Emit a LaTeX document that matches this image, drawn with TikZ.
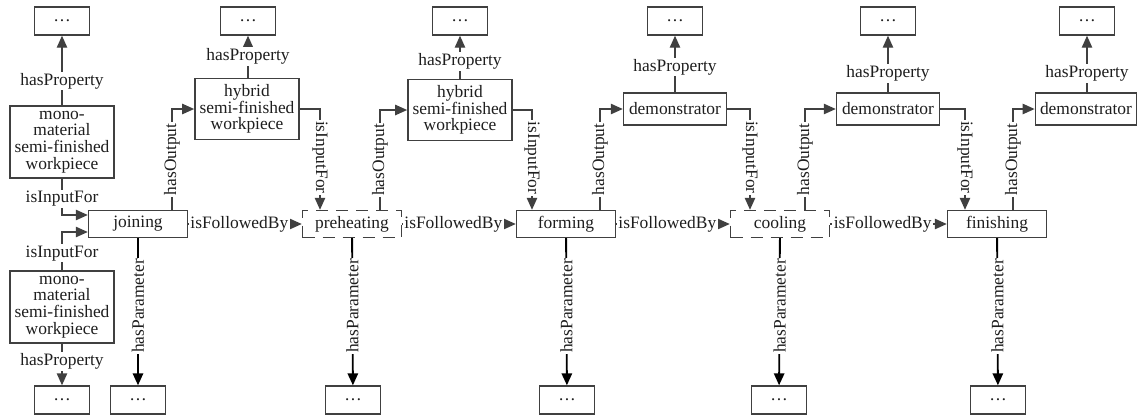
\documentclass[tikz,border=0pt]{standalone}
\usepackage{fontspec}
\setmainfont{Liberation Serif}
\usetikzlibrary{arrows.meta, positioning}
\definecolor{lngray}{RGB}{64,64,64}
\definecolor{txgray}{RGB}{30,30,30}

\begin{document}
\begin{tikzpicture}[x=0.25mm, y=-0.25mm,
  every node/.style={font=\fontsize{12.4}{11.9}\selectfont, text=txgray},
  procbox/.style={draw=lngray, line width=1pt, minimum width=24.75mm, minimum height=6.75mm},
  optbox/.style={procbox, dash pattern=on 3mm off 2mm},
  dotbox/.style={draw=lngray, line width=1pt, minimum width=13.75mm, minimum height=7mm},
  objbox/.style={draw=lngray, line width=1pt, minimum width=25.75mm, align=center},
  rel/.style={draw=lngray, line width=1pt, -{Triangle[length=3mm, width=2.6mm]}},
  parrel/.style={rel, draw=black, line width=1.3pt},
  lbl/.style={fill=white, inner sep=1pt}]
  \useasboundingbox (0,0) rectangle (1141,417);

  % Process chain
  \node[procbox] (joining) at (138,224) {joining};
  \node[optbox] (preheating) at (352,224) {preheating};
  \node[procbox] (forming) at (566,224) {forming};
  \node[optbox] (cooling) at (780,224) {cooling};
  \node[procbox] (finishing) at (997,224) {finishing};

  % Inputs and outputs
  \node[objbox, minimum height=18mm] (mono1) at (62,142) {mono-\\material\\semi-finished\\workpiece};
  \node[objbox, minimum height=18mm] (mono2) at (62,307) {mono-\\material\\semi-finished\\workpiece};
  \node[objbox, minimum height=15.25mm] (hybrid1) at (247,109) {hybrid\\semi-finished\\workpiece};
  \node[objbox, minimum height=15.25mm] (hybrid2) at (460,110) {hybrid\\semi-finished\\workpiece};
  \node[objbox, minimum height=8mm] (demo1) at (675,109) {demonstrator};
  \node[objbox, minimum height=8mm] (demo2) at (888,109) {demonstrator};
  \node[objbox, minimum height=8mm, minimum width=24.5mm] (demo3) at (1086,109) {demonstrator};

  % Placeholder boxes
  \node[dotbox] (dm1) at (62,21) {\dots};
  \node[dotbox] (dm2) at (62,400) {\dots};
  \node[dotbox] (dh1) at (248,21) {\dots};
  \node[dotbox] (dh2) at (460,21) {\dots};
  \node[dotbox] (dd1) at (675,21) {\dots};
  \node[dotbox] (dd2) at (888,21) {\dots};
  \node[dotbox] (dd3) at (1087,21) {\dots};
  \node[dotbox] (pj) at (138,400) {\dots};
  \node[dotbox] (pp) at (353,400) {\dots};
  \node[dotbox] (pf) at (567,400) {\dots};
  \node[dotbox] (pc) at (779,400) {\dots};
  \node[dotbox] (pn) at (998,400) {\dots};

  % Properties
  \draw[rel] (mono1) -- node[lbl, pos=0.35] {hasProperty} (dm1);
  \draw[rel] (mono2) -- node[lbl, pos=0.43] {hasProperty} (dm2);
  \draw[rel] (hybrid1.north -| dh1) -- node[lbl, pos=0.5] {hasProperty} (dh1);
  \draw[rel] (hybrid2) -- node[lbl, pos=0.4] {hasProperty} (dh2);
  \draw[rel] (demo1) -- node[lbl, pos=0.45] {hasProperty} (dd1);
  \draw[rel] (demo2) -- node[lbl, pos=0.33] {hasProperty} (dd2);
  \draw[rel] (demo3.north -| dd3) -- node[lbl, pos=0.33] {hasProperty} (dd3);

  % Inputs
  \draw[rel] (mono1.south) |- node[lbl, pos=0.28] {isInputFor} ([yshift=2.25mm]joining.west);
  \draw[rel] (mono2.north) |- node[lbl, pos=0.22] {isInputFor} ([yshift=-2mm]joining.west);
  \draw[rel] (hybrid1.east) -| node[lbl, rotate=-90, pos=0.74] {isInputFor} ([xshift=-8mm]preheating.north);
  \draw[rel] (hybrid2.east) -| node[lbl, rotate=-90, pos=0.74] {isInputFor} ([xshift=-8.5mm]forming.north);
  \draw[rel] (demo1.east) -| node[lbl, rotate=-90, pos=0.74] {isInputFor} ([xshift=-7.5mm]cooling.north);
  \draw[rel] (demo2.east) -| node[lbl, rotate=-90, pos=0.74] {isInputFor} ([xshift=-8mm]finishing.north);

  % Outputs
  \draw[rel] ([xshift=8.5mm]joining.north) |- node[lbl, rotate=90, pos=0.25] {hasOutput} (hybrid1.west);
  \draw[rel] ([xshift=7mm]preheating.north) |- node[lbl, rotate=90, pos=0.25] {hasOutput} (hybrid2.west);
  \draw[rel] ([xshift=8.5mm]forming.north) |- node[lbl, rotate=90, pos=0.25] {hasOutput} (demo1.west);
  \draw[rel] ([xshift=6.25mm]cooling.north) |- node[lbl, rotate=90, pos=0.25] {hasOutput} (demo2.west);
  \draw[rel] ([xshift=4mm]finishing.north) |- node[lbl, rotate=90, pos=0.25] {hasOutput} (demo3.west);

  % Sequence
  \draw[rel] (joining) -- node[lbl, pos=0.45] {isFollowedBy} (preheating);
  \draw[rel] (preheating) -- node[lbl, pos=0.45] {isFollowedBy} (forming);
  \draw[rel] (forming) -- node[lbl, pos=0.45] {isFollowedBy} (cooling);
  \draw[rel] (cooling) -- node[lbl, pos=0.45] {isFollowedBy} (finishing);

  % Parameters
  \draw[parrel] (joining) -- node[lbl, rotate=90, pos=0.46] {hasParameter} (pj);
  \draw[parrel] (preheating) -- node[lbl, rotate=90, pos=0.46] {hasParameter} (pp);
  \draw[parrel] (forming) -- node[lbl, rotate=90, pos=0.46] {hasParameter} (pf);
  \draw[parrel] (cooling) -- node[lbl, rotate=90, pos=0.46] {hasParameter} (pc);
  \draw[parrel] (finishing) -- node[lbl, rotate=90, pos=0.46] {hasParameter} (pn);
\end{tikzpicture}
\end{document}
